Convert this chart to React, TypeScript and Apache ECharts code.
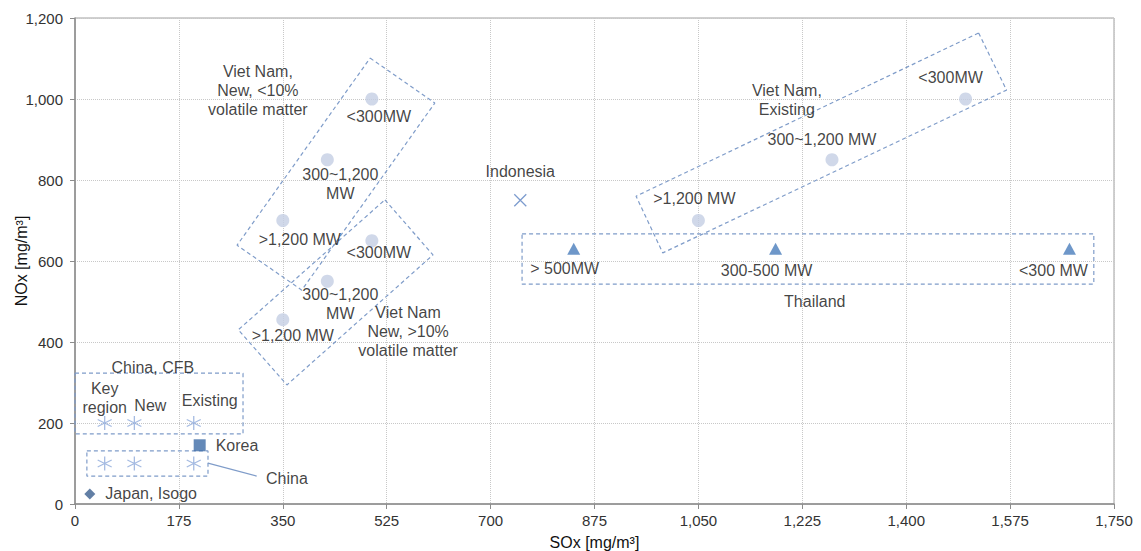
import React, { useEffect, useRef } from "react";
import * as echarts from "echarts";

// ---- data (SOx, NOx in mg/m³) ----
const vnNewLow = [[350, 700], [425, 850], [500, 1000]];
const vnNewLowLabels = [">1,200 MW", "300~1,200\nMW", "<300MW"];
const vnNewHigh = [[350, 455], [425, 550], [500, 650]];
const vnNewHighLabels = [">1,200 MW", "300~1,200\nMW", "<300MW"];
const vnExisting = [[1050, 700], [1275, 850], [1500, 1000]];
const vnExistingLabels = [">1,200 MW", "300~1,200 MW", "<300MW"];
const thailand = [[840, 630], [1180, 630], [1675, 630]];
const thailandLabels = ["> 500MW", "300-500 MW", "<300 MW"];
const indonesia = [[750, 750]];
const indonesiaLabels = ["Indonesia"];
const chinaCFB = [[50, 200], [100, 200], [200, 200]];
const chinaCFBLabels = ["Key\nregion", "New", "Existing"];
const china = [[50, 100], [100, 100], [200, 100]];
const korea = [[210, 145]];
const japan = [[25, 25]];

// group annotation texts (anchored in data units)
const annotationTexts = [
  "Viet Nam,\nNew, <10%\nvolatile matter",
  "Viet Nam\nNew, >10%\nvolatile matter",
  "Viet Nam,\nExisting",
  "Thailand",
  "China, CFB",
  "China",
];
const annotationAnchors = [[308, 1020], [561, 425], [1199, 998], [1246, 499], [131, 338], [357, 62]];

// dashed enclosures (corners in data units)
const boxVnNewLow = [[497, 1101], [606, 990], [382, 528], [273, 639]];
const boxVnNewHigh = [[522, 751], [603, 615], [357, 294], [275, 430]];
const boxVnExisting = [[1522, 1163], [1569, 1022], [990, 620], [945, 760]];
const boxThailand = [[753, 667], [1716, 667], [1716, 543], [753, 543]];
const boxChinaCFB = [[0, 323], [283, 323], [283, 173], [0, 173]];
const boxChina = [[20, 131], [224, 131], [224, 69], [20, 69]];
const chinaLeader = [[224, 101], [306, 69]];

// label offsets (pixels) relative to each marker
const offVnNewLow = [[17, 19], [13, 24], [7, 17]];
const offVnNewHigh = [[10, 16], [13, 23], [7, 12]];
const offVnExisting = [[-4, -22], [-10, -20], [-15, -22]];
const offThailand = [[-9, 20], [-9, 22], [-16, 22]];
const offIndonesia = [[0, -29]];
const offChinaCFB = [[0, -25], [16, -18], [16, -23]];

const FONT = "Liberation Sans, Arial, sans-serif";
const TXT = "#111";
const BOX = "#7f9cc9";

function labelled(pts: number[][], labels: string[], offs: number[][]) {
  return pts.map((p, i) => ({
    value: p,
    name: labels[i],
    label: {
      show: true,
      position: "inside",
      offset: offs[i],
      formatter: "{b}",
      color: TXT,
      fontSize: 16,
      lineHeight: 19,
      fontFamily: FONT,
    },
  }));
}

function boxSeries(corners: number[][], dashed = true) {
  return {
    type: "line",
    data: dashed ? [...corners, corners[0]] : corners,
    symbol: "none",
    silent: true,
    z: 1,
    lineStyle: { color: BOX, width: 1.2, type: dashed ? [4, 3] : "solid" },
  };
}

export default function App() {
  const ref = useRef<HTMLDivElement>(null);
  useEffect(() => {
    if (!ref.current) return;
    const chart = echarts.init(ref.current, undefined, { renderer: "svg" });
    const circleStyle = { color: "#c4cee3" };
    const asterisk = "path://M0,-10 L0,10 M-8.66,-5 L8.66,5 M-8.66,5 L8.66,-5";
    const cross = "path://M-10,-10 L10,10 M-10,10 L10,-10";
    chart.setOption({
      animation: false,
      backgroundColor: "#ffffff",
      textStyle: { fontFamily: FONT },
      grid: {
        left: 75,
        right: 27,
        top: 18,
        bottom: 47,
        containLabel: false,
        outerBoundsMode: "none",
        show: true,
        borderColor: "#a0a0a0",
        borderWidth: 1,
      },
      xAxis: {
        type: "value",
        min: 0,
        max: 1750,
        interval: 175,
        name: "SOx [mg/m³]",
        nameLocation: "middle",
        nameGap: 30,
        nameMoveOverlap: false,
        nameTextStyle: { fontSize: 16, color: TXT, fontFamily: FONT },
        axisLine: { show: true, lineStyle: { color: "#8c8c8c", width: 1.5 } },
        axisTick: { show: true, length: 5, lineStyle: { color: "#8c8c8c" } },
        axisLabel: { fontSize: 15, color: "#333", margin: 9, fontFamily: FONT },
        splitLine: { show: true, lineStyle: { color: "#c8c8c8", type: "dotted" } },
      },
      yAxis: {
        type: "value",
        min: 0,
        max: 1200,
        interval: 200,
        name: "NOx [mg/m³]",
        nameLocation: "middle",
        nameGap: 46,
        nameMoveOverlap: false,
        nameTextStyle: { fontSize: 16, color: TXT, fontFamily: FONT },
        axisLine: { show: true, lineStyle: { color: "#8c8c8c", width: 1.5 } },
        axisTick: { show: true, length: 5, lineStyle: { color: "#8c8c8c" } },
        axisLabel: {
          fontSize: 15,
          color: "#333",
          margin: 12,
          fontFamily: FONT,
          formatter: (v: number) => v.toLocaleString("en-US"),
        },
        splitLine: { show: true, lineStyle: { color: "#c8c8c8", type: "dotted" } },
      },
      series: [
        boxSeries(boxVnNewLow),
        boxSeries(boxVnNewHigh),
        boxSeries(boxVnExisting),
        boxSeries(boxThailand),
        boxSeries(boxChinaCFB),
        boxSeries(boxChina),
        boxSeries(chinaLeader, false),
        {
          type: "scatter",
          symbol: "circle",
          symbolSize: 13,
          itemStyle: circleStyle,
          data: labelled(vnNewLow, vnNewLowLabels, offVnNewLow),
        },
        {
          type: "scatter",
          symbol: "circle",
          symbolSize: 13,
          itemStyle: circleStyle,
          data: labelled(vnNewHigh, vnNewHighLabels, offVnNewHigh),
        },
        {
          type: "scatter",
          symbol: "circle",
          symbolSize: 13,
          itemStyle: circleStyle,
          data: labelled(vnExisting, vnExistingLabels, offVnExisting),
        },
        {
          type: "scatter",
          symbol: "triangle",
          symbolSize: [13, 12],
          itemStyle: { color: "#4a7dbc" },
          data: labelled(thailand, thailandLabels, offThailand),
        },
        {
          type: "scatter",
          symbol: cross,
          symbolSize: 12,
          itemStyle: { color: "transparent", borderColor: "#5b82c2", borderWidth: 1.3 },
          data: labelled(indonesia, indonesiaLabels, offIndonesia),
        },
        {
          type: "scatter",
          symbol: asterisk,
          symbolSize: 14,
          itemStyle: { color: "transparent", borderColor: "#8eaadb", borderWidth: 1.3 },
          data: labelled(chinaCFB, chinaCFBLabels, offChinaCFB),
        },
        {
          type: "scatter",
          symbol: asterisk,
          symbolSize: 14,
          itemStyle: { color: "transparent", borderColor: "#8eaadb", borderWidth: 1.3 },
          data: china,
        },
        {
          type: "scatter",
          symbol: "rect",
          symbolSize: 12,
          itemStyle: { color: "#3d6ba6" },
          data: korea,
          label: {
            show: true,
            position: "right",
            distance: 10,
            formatter: "Korea",
            color: TXT,
            fontSize: 16,
            fontFamily: FONT,
          },
        },
        {
          type: "scatter",
          symbol: "diamond",
          symbolSize: 11,
          itemStyle: { color: "#3b5f8f" },
          data: japan,
          label: {
            show: true,
            position: "right",
            distance: 10,
            formatter: "Japan, Isogo",
            color: TXT,
            fontSize: 16,
            fontFamily: FONT,
          },
        },
        {
          type: "scatter",
          symbolSize: 1,
          silent: true,
          itemStyle: { color: "transparent" },
          data: annotationAnchors.map((p, i) => ({ value: p, name: annotationTexts[i] })),
          label: {
            show: true,
            position: "inside",
            formatter: "{b}",
            color: TXT,
            fontSize: 16,
            lineHeight: 19,
            fontFamily: FONT,
          },
        },
      ],
    });
    return () => chart.dispose();
  }, []);
  return (
    <div
      ref={ref}
      style={{ position: "fixed", left: 0, top: 0, width: 1141, height: 551, background: "#fff" }}
    />
  );
}
